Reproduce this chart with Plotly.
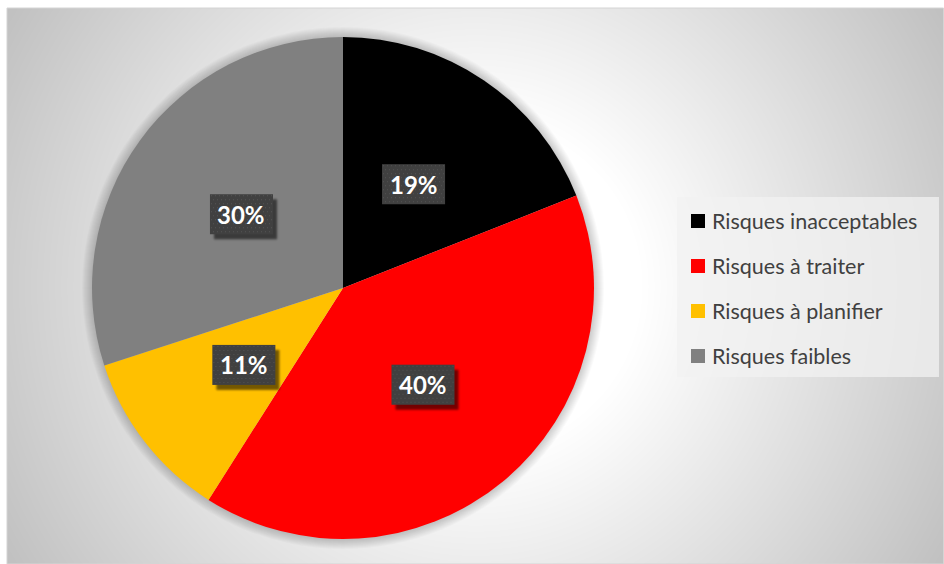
import base64
import math
import struct
import zlib

import numpy as np
import plotly.graph_objects as go

# ---- data -------------------------------------------------------------
categories = ["Risques inacceptables", "Risques à traiter", "Risques à planifier", "Risques faibles"]
shares = [19, 40, 11, 30]
slice_colors = ["#000000", "#FF0000", "#FFC000", "#808080"]

W, H = 944, 564
CX, CY, R = 343, 288, 251          # pie centre / radius in pixels
AREA = (7, 8, 944, 564)            # chart area (x0, y0, x1, y1) in pixels


def px(x):
    return x / W


def py(y):
    return 1 - y / H


def png_uri(arr):
    """Encode a uint8 array (HxW gray or HxWx4 RGBA) as a PNG data URI."""
    arr = np.ascontiguousarray(arr, dtype=np.uint8)
    h, w = arr.shape[:2]
    ctype = 0 if arr.ndim == 2 else 6
    raw = b"".join(b"\x00" + arr[r].tobytes() for r in range(h))

    def chunk(tag, data):
        return (struct.pack(">I", len(data)) + tag + data
                + struct.pack(">I", zlib.crc32(tag + data) & 0xFFFFFFFF))

    ihdr = struct.pack(">IIBBBBB", w, h, 8, ctype, 0, 0, 0)
    png = (b"\x89PNG\r\n\x1a\n" + chunk(b"IHDR", ihdr)
           + chunk(b"IDAT", zlib.compress(raw, 9)) + chunk(b"IEND", b""))
    return "data:image/png;base64," + base64.b64encode(png).decode()


# ---- radial grey background of the chart area ------------------------
ax0, ay0, ax1, ay1 = AREA
aw, ah = ax1 - ax0, ay1 - ay0
yy, xx = np.mgrid[0:ah, 0:aw].astype(float)
gx, gy = (ax0 + ax1) / 2 - ax0, (ay0 + ay1) / 2 - ay0
t = np.hypot(xx - gx, yy - gy) / math.hypot(gx, gy)
t = np.clip((t - 0.3) / 0.7, 0, 1)
bg = (255 - 63 * t).round().astype(np.uint8)

# ---- data-label tile: dark dotted box with soft drop shadow ----------
BW, BH, SHX, SHY, PAD = 63, 40, 4, 5, 10
tile = np.zeros((BH + PAD, BW + PAD, 4), dtype=float)
shadow = np.zeros((BH + PAD, BW + PAD))
shadow[SHY:SHY + BH, SHX:SHX + BW] = 1.0
for _ in range(3):  # cheap blur
    s = shadow.copy()
    shadow = (s + np.roll(s, 1, 0) + np.roll(s, -1, 0) + np.roll(s, 1, 1) + np.roll(s, -1, 1)) / 5
tile[..., 3] = shadow * 0.55 * 255
box = np.full((BH, BW), 64.0)
for r in range(BH):
    off = 0 if (r // 4) % 2 == 0 else 2
    if r % 4 == 1:
        box[r, off + 1::4] = 84
tile[:BH, :BW, 0] = box
tile[:BH, :BW, 1] = box
tile[:BH, :BW, 2] = box
tile[:BH, :BW, 3] = 255
tile_uri = png_uri(tile.round().clip(0, 255))

# ---- figure -----------------------------------------------------------
fig = go.Figure()
fig.add_trace(go.Pie(
    labels=categories,
    values=shares,
    marker=dict(colors=slice_colors, line=dict(width=0)),
    sort=False,
    direction="clockwise",
    rotation=0,
    textinfo="none",
    hoverinfo="label+percent",
    showlegend=False,
    domain=dict(x=[px(CX - R), px(CX + R)], y=[py(CY + R), py(CY - R)]),
))

images = [dict(source=png_uri(bg), xref="paper", yref="paper",
               x=px(ax0), y=py(ay0), sizex=aw / W, sizey=ah / H,
               xanchor="left", yanchor="top", sizing="stretch", layer="below")]
shapes = [dict(type="rect", xref="paper", yref="paper",
               x0=px(ax0), y0=py(ay1), x1=px(ax1 - 0.5), y1=py(ay0),
               line=dict(color="#d4d4d4", width=1), layer="below")]

# soft halo behind the pie
for k in range(1, 11):
    rr = R + k
    shapes.append(dict(type="circle", xref="paper", yref="paper",
                       x0=px(CX - rr), x1=px(CX + rr), y0=py(CY + rr), y1=py(CY - rr),
                       fillcolor="rgba(0,0,0,0.018)", line=dict(width=0), layer="below"))

annotations = []
total = sum(shares)
cum = 0
for name, v in zip(categories, shares):
    mid = (cum + v / 2) / total * 2 * math.pi
    cum += v
    lx = CX + 0.5 * R * math.sin(mid)
    ly = CY - 0.5 * R * math.cos(mid)
    images.append(dict(source=tile_uri, xref="paper", yref="paper",
                       x=px(lx - BW / 2), y=py(ly - BH / 2),
                       sizex=(BW + PAD) / W, sizey=(BH + PAD) / H,
                       xanchor="left", yanchor="top", sizing="stretch", layer="above"))
    annotations.append(dict(x=px(lx), y=py(ly), xref="paper", yref="paper",
                            text=f"<b>{round(v / total * 100)}%</b>", showarrow=False,
                            font=dict(family="Lato", size=24, color="#FFFFFF"),
                            xanchor="center", yanchor="middle"))

# legend panel
LX0, LY0, LX1, LY1 = 677, 197, 939, 377
shapes.append(dict(type="rect", xref="paper", yref="paper",
                   x0=px(LX0), x1=px(LX1), y0=py(LY1), y1=py(LY0),
                   fillcolor="rgba(242,242,242,0.75)", line=dict(width=0), layer="below"))
for i, (name, col) in enumerate(zip(categories, slice_colors)):
    cy = 221 + i * 45
    shapes.append(dict(type="rect", xref="paper", yref="paper",
                       x0=px(691), x1=px(705), y0=py(cy + 7), y1=py(cy - 7),
                       fillcolor=col, line=dict(width=0), layer="above"))
    annotations.append(dict(x=px(710), y=py(cy), xref="paper", yref="paper",
                            text=name, showarrow=False,
                            font=dict(family="Lato", size=21.5, color="#404040"),
                            xanchor="left", yanchor="middle"))

fig.update_layout(
    width=W, height=H,
    margin=dict(l=0, r=0, t=0, b=0),
    paper_bgcolor="#FFFFFF",
    plot_bgcolor="#FFFFFF",
    showlegend=False,
    images=images,
    shapes=shapes,
    annotations=annotations,
)

fig.write_html("out.html")
